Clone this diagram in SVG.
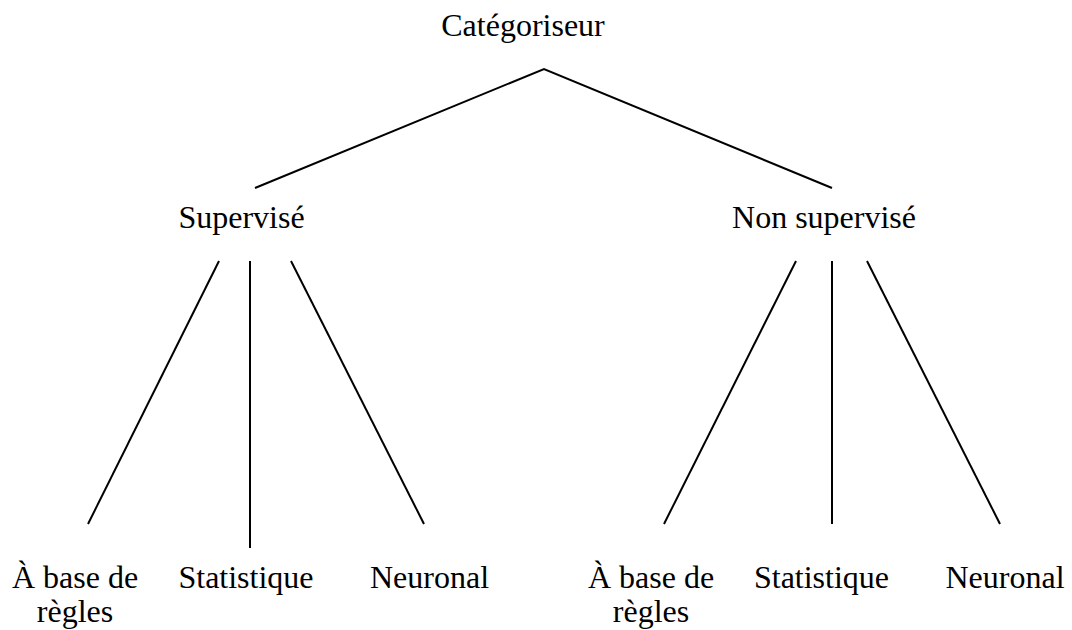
<svg xmlns="http://www.w3.org/2000/svg" width="1072" height="630" viewBox="0 0 1072 630">
  <style>
    .lbl { font-family: "Liberation Serif", "Times New Roman", serif; font-size: 32px; fill: #000; text-anchor: middle; }
    .edge { stroke: #000; stroke-width: 2; fill: none; stroke-linecap: butt; stroke-linejoin: miter; }
  </style>
  <rect x="0" y="0" width="1072" height="630" fill="#fff"/>

  <!-- connectors -->
  <g id="connectors">
    <polyline class="edge" points="255,188 544,69 832,188"/>
    <line class="edge" x1="219" y1="261" x2="88" y2="524"/>
    <line class="edge" x1="250" y1="261" x2="250" y2="548"/>
    <line class="edge" x1="291" y1="261" x2="424" y2="524"/>
    <line class="edge" x1="796" y1="261" x2="664" y2="524"/>
    <line class="edge" x1="832" y1="261" x2="832" y2="524"/>
    <line class="edge" x1="867" y1="261" x2="1000" y2="524"/>
  </g>

  <!-- nodes -->
  <g id="root">
    <text class="lbl" x="523" y="36">Catégoriseur</text>
  </g>
  <g id="supervise">
    <text class="lbl" x="241.5" y="228">Supervisé</text>
  </g>
  <g id="non-supervise">
    <text class="lbl" x="824" y="228">Non supervisé</text>
  </g>
  <g id="sup-regles">
    <text class="lbl" x="75" y="588">À base de</text>
    <text class="lbl" x="75" y="622">règles</text>
  </g>
  <g id="sup-statistique">
    <text class="lbl" x="246" y="588">Statistique</text>
  </g>
  <g id="sup-neuronal">
    <text class="lbl" x="429.5" y="588">Neuronal</text>
  </g>
  <g id="nonsup-regles">
    <text class="lbl" x="651" y="588">À base de</text>
    <text class="lbl" x="651" y="622">règles</text>
  </g>
  <g id="nonsup-statistique">
    <text class="lbl" x="821.5" y="588">Statistique</text>
  </g>
  <g id="nonsup-neuronal">
    <text class="lbl" x="1005" y="588">Neuronal</text>
  </g>
</svg>
